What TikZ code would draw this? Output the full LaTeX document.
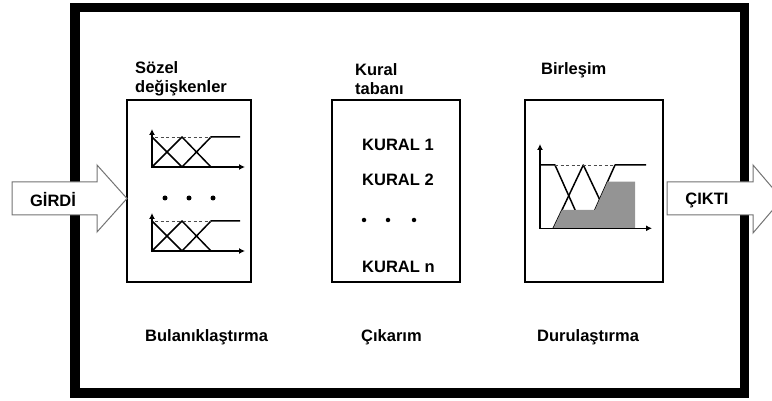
\documentclass[tikz,border=0pt]{standalone}
\usepackage{fontspec}
\setmainfont{Liberation Sans}
\usetikzlibrary{arrows.meta}
\definecolor{shadefill}{gray}{0.58}
\definecolor{arrowline}{gray}{0.45}
\tikzset{
  lbl/.style={font=\fontsize{16.5}{19}\selectfont\bfseries, inner sep=0pt, anchor=west, align=left},
  blockbox/.style={draw, line width=2pt, minimum width=#1, minimum height=182pt, inner sep=0pt},
  mfline/.style={line width=1.5pt, line join=round},
  axisline/.style={line width=1.5pt, -{Latex[length=6pt,width=6pt]}},
  topdash/.style={line width=0.9pt, dashed, dash pattern=on 3pt off 2.5pt, black!70},
  bigarrow/.style={draw=arrowline, line width=1pt, fill=white},
  dotmark/.style={circle, fill=black, inner sep=0pt, minimum size=5pt},
}
\begin{document}
\begin{tikzpicture}[x=1pt, y=-1pt]
\useasboundingbox (0,0) rectangle (772,401);
\clip (0,0) rectangle (772,401);
% outer frame
\draw[line width=9.5pt] (75,7.5) rectangle (744.5,393);
% blocks
\node[blockbox=124pt] (fuzz) at (189,191) {};
\node[blockbox=128pt] (rules) at (396,191) {};
\node[blockbox=138pt] (defuzz) at (594,191) {};
% membership plots in fuzzification block
\foreach \dy in {0,84}{
  \draw[mfline] (152,{137+\dy}) -- (182,{167+\dy});
  \draw[mfline] (152,{167+\dy}) -- (182,{137+\dy}) -- (211,{167+\dy});
  \draw[mfline] (182,{167+\dy}) -- (211,{137+\dy}) -- (240,{137+\dy});
  \draw[topdash] (155,{137+\dy}) -- (211,{137+\dy});
  \draw[axisline] (152,{168+\dy}) -- (152,{129+\dy});
  \draw[axisline] (151,{167+\dy}) -- (245,{167+\dy});
}
\node[dotmark] (fd1) at (165,198) {};
\node[dotmark] (fd2) at (189,198) {};
\node[dotmark] (fd3) at (213,198) {};
% defuzzification plot
\draw[mfline] (540,165) -- (555,165) -- (583.3,228.3);
\draw[mfline] (553.3,228.3) -- (583.3,165) -- (613.3,228.3);
\draw[mfline] (586.7,228.3) -- (615,165) -- (646,165);
\draw[topdash] (555,165) -- (615,165);
\fill[shadefill] (553.3,228.3) -- (562,210) -- (594.9,210) -- (607.5,181.7) -- (635,181.7) -- (635,228.3) -- cycle;
\draw[axisline] (540,229) -- (540,144);
\draw[axisline] (539,228.3) -- (652,228.3);
% rule base contents
\node[lbl] (r1) at (362,145) {KURAL 1};
\node[lbl] (r2) at (362,180) {KURAL 2};
\node[dotmark, minimum size=4.5pt] (rd1) at (364,220) {};
\node[dotmark, minimum size=4.5pt] (rd2) at (388,220) {};
\node[dotmark, minimum size=4.5pt] (rd3) at (414,220) {};
\node[lbl] (rn) at (362,267) {KURAL n};
% titles
\node[lbl] (t1) at (135,78.5) {Sözel\\değişkenler};
\node[lbl] (t2) at (355,79) {Kural\\tabanı};
\node[lbl] (t3) at (541,70) {Birleşim};
% bottom labels
\node[lbl] (b1) at (145,337) {Bulanıklaştırma};
\node[lbl] (b2) at (361,337) {Çıkarım};
\node[lbl] (b3) at (537,337) {Durulaştırma};
% input / output arrows
\draw[bigarrow] (12,182) -- (97,182) -- (97,165) -- (127,198.5) -- (97,232) -- (97,215) -- (12,215) -- cycle;
\node[lbl, anchor=center] (in) at (53,199.5) {GİRDİ};
\draw[bigarrow] (667,182) -- (753,182) -- (753,165) -- (782,199) -- (753,233) -- (753,215) -- (667,215) -- cycle;
\node[lbl, anchor=center] (out) at (707,200) {ÇIKTI};
\end{tikzpicture}
\end{document}
